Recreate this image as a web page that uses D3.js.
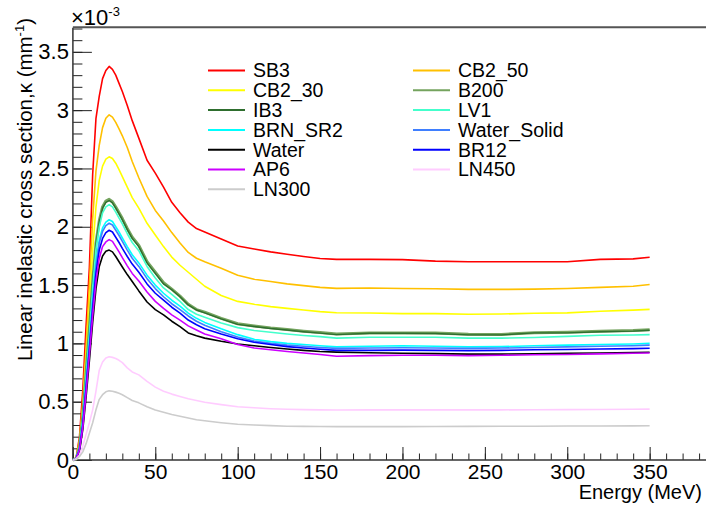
<!DOCTYPE html>
<html>
<head>
<meta charset="utf-8">
<script src="https://cdn.jsdelivr.net/npm/d3@7"></script>
<style>
  body { margin: 0; background: #fff; }
  svg { display: block; }
  text { font-family: "Liberation Sans", Arial, Helvetica, sans-serif; }
</style>
</head>
<body>
<svg id="chart" width="706" height="509"></svg>
<script>
// ---------- data (x 1e-3 mm^-1) ----------
const energy = [0,2,4,6,8,10,12,14,16,18,20,22,24,26,28,30,33,36,40,45,50,55,60,65,70,75,80,90,100,110,120,130,140,150,160,180,200,220,240,260,280,300,320,340,350];

const SB3 = [0,0.02,0.2,0.6,1.15,1.65,2.45,2.93,3.12,3.27,3.34,3.375, 3.35,3.30,3.23,3.16, 3.04,2.91,2.76, 2.57,2.46,2.34,2.21,2.12,2.04,1.985,1.955, 1.895,1.835,1.81,1.785,1.765,1.745,1.728,1.72, 1.72,1.718,1.705,1.70,1.70,1.70,1.70,1.72,1.725, 1.738];
const CB2_50 = [0,0.02,0.17,0.5,0.97,1.5,2.07,2.48,2.7,2.85,2.93,2.96, 2.94,2.895,2.84,2.78, 2.68,2.56,2.42, 2.26,2.14,2.05,1.95,1.86,1.78,1.73,1.70, 1.645,1.585,1.55,1.53,1.51,1.495,1.48,1.472, 1.475,1.47,1.468,1.463,1.463,1.465,1.47,1.48,1.49, 1.505];
const CB2_30 = [0,0.015,0.14,0.44,0.88,1.3,1.8,2.17,2.4,2.52,2.58,2.60, 2.585,2.545,2.49,2.43, 2.34,2.25,2.16, 2.03,1.93,1.83,1.74,1.67,1.61,1.55,1.49, 1.41,1.36,1.335,1.315,1.3,1.286,1.272,1.263, 1.26,1.255,1.255,1.25,1.252,1.258,1.262,1.275,1.285, 1.292];
const B200 = [0,0.01,0.11,0.37,0.75,1.13,1.53,1.86,2.05,2.17,2.22,2.235, 2.215,2.17,2.12,2.07, 1.985,1.91,1.84, 1.70,1.61,1.52,1.465,1.405,1.335,1.29,1.268, 1.215,1.168,1.15,1.133,1.12,1.105,1.093,1.08, 1.09,1.09,1.088,1.078,1.077,1.092,1.095,1.103,1.11, 1.117];
const IB3 = [0,0.01,0.11,0.37,0.74,1.12,1.52,1.85,2.04,2.16,2.21,2.225, 2.205,2.16,2.11,2.06, 1.975,1.90,1.83, 1.69,1.60,1.51,1.46,1.40,1.33,1.286,1.262, 1.21,1.163,1.145,1.128,1.115,1.10,1.088,1.075, 1.087,1.087,1.085,1.073,1.073,1.09,1.09,1.10,1.105, 1.113];
const LV1 = [0,0.01,0.11,0.36,0.72,1.09,1.48,1.81,2.0,2.12,2.17,2.19, 2.17,2.125,2.075,2.025, 1.94,1.865,1.795, 1.66,1.56,1.475,1.42,1.36,1.29,1.25,1.225, 1.175,1.135,1.11,1.095,1.08,1.068,1.058,1.045, 1.052,1.052,1.052,1.045,1.045,1.05,1.06,1.07,1.072, 1.075];
const BRN_SR2 = [0,0.01,0.1,0.33,0.67,1.01,1.38,1.69,1.89,1.99,2.04,2.06, 2.045,2.0,1.955,1.905, 1.83,1.76,1.69, 1.585,1.5,1.43,1.37,1.32,1.26,1.215,1.18, 1.125,1.075,1.035,1.015,1.0,0.99,0.98,0.97, 0.975,0.98,0.975,0.97,0.972,0.98,0.985,0.99,0.995, 1.0];
const Water_Solid = [0,0.01,0.1,0.32,0.65,0.99,1.35,1.66,1.86,1.96,2.01,2.03, 2.015,1.97,1.925,1.875, 1.80,1.73,1.66, 1.555,1.47,1.40,1.34,1.29,1.235,1.19,1.155, 1.10,1.055,1.02,1.0,0.985,0.975,0.965,0.957, 0.96,0.962,0.96,0.957,0.96,0.965,0.97,0.975,0.98, 0.985];
const Water = [0,0.006,0.08,0.26,0.54,0.85,1.18,1.47,1.66,1.75,1.79,1.80, 1.785,1.745,1.70,1.655, 1.59,1.53,1.45, 1.355,1.29,1.245,1.19,1.143,1.09,1.065,1.045, 1.018,0.995,0.98,0.965,0.952,0.94,0.93,0.925, 0.92,0.915,0.912,0.908,0.908,0.91,0.915,0.918,0.922, 0.924];
const BR12 = [0,0.01,0.09,0.3,0.62,0.95,1.3,1.6,1.8,1.9,1.95,1.97, 1.955,1.91,1.865,1.815, 1.745,1.68,1.61, 1.51,1.43,1.37,1.31,1.26,1.2,1.16,1.125, 1.08,1.04,1.01,0.99,0.972,0.96,0.95,0.94, 0.94,0.942,0.94,0.938,0.94,0.945,0.948,0.952,0.955, 0.958];
const AP6 = [0,0.008,0.09,0.28,0.58,0.9,1.24,1.53,1.73,1.83,1.87,1.89, 1.875,1.83,1.785,1.735, 1.665,1.60,1.535, 1.44,1.36,1.30,1.245,1.2,1.15,1.115,1.08, 1.04,0.99,0.96,0.945,0.93,0.918,0.905,0.89, 0.895,0.898,0.898,0.895,0.898,0.902,0.905,0.91,0.915, 0.918];
const LN450 = [0,0.01,0.04,0.12,0.22,0.32,0.43,0.59,0.77,0.84,0.875,0.886, 0.88,0.87,0.855,0.835, 0.79,0.755,0.73, 0.675,0.625,0.59,0.565,0.545,0.525,0.51,0.495, 0.475,0.457,0.448,0.44,0.435,0.432,0.43,0.429, 0.43,0.43,0.43,0.43,0.43,0.431,0.432,0.433,0.435, 0.436];
const LN300 = [0,0.005,0.03,0.07,0.14,0.23,0.32,0.43,0.52,0.56,0.585,0.593, 0.59,0.582,0.572,0.56, 0.535,0.51,0.49, 0.457,0.428,0.41,0.39,0.375,0.36,0.345,0.336, 0.32,0.306,0.3,0.295,0.29,0.288,0.287,0.286, 0.286,0.286,0.287,0.288,0.289,0.29,0.291,0.292,0.293, 0.294];

const seriesNames = ["SB3","CB2_50","CB2_30","B200","IB3","LV1","BRN_SR2","Water_Solid","Water","BR12","AP6","LN450","LN300"];
const seriesValues = [SB3,CB2_50,CB2_30,B200,IB3,LV1,BRN_SR2,Water_Solid,Water,BR12,AP6,LN450,LN300];
const seriesColors = ["#ff0000","#ffc000","#ffff00","#74a35e","#2e6e2e","#44ffcc","#00ffff","#3f7fff","#000000","#0000ff","#cc00ff","#ffccff","#cccccc"];
const seriesWidths = [1.6,1.6,1.6,3,1.4,1.6,1.6,1.6,1.6,1.6,1.6,1.6,1.6];

const yMajorTicks = [0,0.5,1,1.5,2,2.5,3,3.5];
const xMajorTicks = [0,50,100,150,200,250,300,350];

// ---------- layout ----------
const svg = d3.select("#chart");
const FONT = "'Liberation Sans', Arial, Helvetica, sans-serif";
const x = d3.scaleLinear().domain([0, 384.2]).range([72.9, 706]);
const y = d3.scaleLinear().domain([0, 3.707]).range([460, 27.7]);

// minor ticks
svg.append("g").attr("transform","translate(72.9,0)")
  .call(d3.axisLeft(y).tickValues(d3.range(0, 3.71, 0.1)).tickSize(-9.5).tickSizeOuter(0).tickFormat(""))
  .call(g => g.select(".domain").remove())
  .call(g => g.selectAll("line").attr("stroke","#222"));
svg.append("g").attr("transform","translate(0,460)")
  .call(d3.axisBottom(x).tickValues(d3.range(0, 385, 10)).tickSize(-6.5).tickSizeOuter(0).tickFormat(""))
  .call(g => g.select(".domain").remove())
  .call(g => g.selectAll("line").attr("stroke","#222"));

// major ticks + labels
svg.append("g").attr("transform","translate(72.9,0)")
  .call(d3.axisLeft(y).tickValues(yMajorTicks).tickSize(-19).tickSizeOuter(0).tickPadding(4).tickFormat(d => String(d)))
  .call(g => g.select(".domain").remove())
  .call(g => g.selectAll("line").attr("stroke","#222"))
  .call(g => g.selectAll("text").attr("font-size", 22).attr("fill","#000").attr("font-family", FONT));
svg.append("g").attr("transform","translate(0,460)")
  .call(d3.axisBottom(x).tickValues(xMajorTicks).tickSize(-13).tickSizeOuter(0).tickPadding(4).tickFormat(d => String(d)))
  .call(g => g.select(".domain").remove())
  .call(g => g.selectAll("line").attr("stroke","#222"))
  .call(g => g.selectAll("text").attr("font-size", 21).attr("fill","#000").attr("font-family", FONT));

// frame lines
svg.append("line").attr("x1",72.9).attr("x2",72.9).attr("y1",27.7).attr("y2",460).attr("stroke","#333").attr("stroke-width",1.5);
svg.append("line").attr("x1",72.9).attr("x2",706).attr("y1",460).attr("y2",460).attr("stroke","#333").attr("stroke-width",1.5);
svg.append("line").attr("x1",72.9).attr("x2",706).attr("y1",27.2).attr("y2",27.2).attr("stroke","#555").attr("stroke-width",2);

// curves
const line = d3.line().x((d,i) => x(energy[i])).y(d => y(d));
const plot = svg.append("g");
seriesValues.forEach((vals, k) => {
  plot.append("path").attr("d", line(vals)).attr("fill","none")
    .attr("stroke", seriesColors[k]).attr("stroke-width", seriesWidths[k])
    .attr("stroke-linejoin","round");
});

// legend (two columns, filled row-wise)
const leg = svg.append("g");
seriesNames.forEach((name, k) => {
  const col = k % 2, row = Math.floor(k / 2);
  const lx = col === 0 ? 208 : 413;
  const ly = 70.5 + row * 19.8;
  leg.append("line").attr("x1", lx).attr("x2", lx + 37).attr("y1", ly).attr("y2", ly)
    .attr("stroke", seriesColors[k]).attr("stroke-width", 2);
  leg.append("text").attr("x", lx + 45).attr("y", ly + 6.8).attr("font-size", 19.5)
    .attr("font-family", FONT).attr("fill","#000").text(name);
});

// multiplier
const mult = svg.append("text").attr("x", 71).attr("y", 25).attr("font-size", 22).attr("font-family", FONT).attr("fill","#000");
mult.append("tspan").text("×10");
mult.append("tspan").attr("font-size", 13).attr("dy", -9).text("-3");

// axis titles
const yt = svg.append("text").attr("transform","translate(32,18) rotate(-90)").attr("text-anchor","end")
  .attr("font-size", 20.5).attr("font-family", FONT).attr("fill","#000");
yt.append("tspan").text("Linear inelastic cross section,κ (mm");
yt.append("tspan").attr("font-size", 13).attr("dy", -8).text("-1");
yt.append("tspan").attr("dy", 8).text(")");

svg.append("text").attr("x", 702).attr("y", 499).attr("text-anchor","end")
  .attr("font-size", 20).attr("font-family", FONT).attr("fill","#000").text("Energy (MeV)");
</script>
</body>
</html>
